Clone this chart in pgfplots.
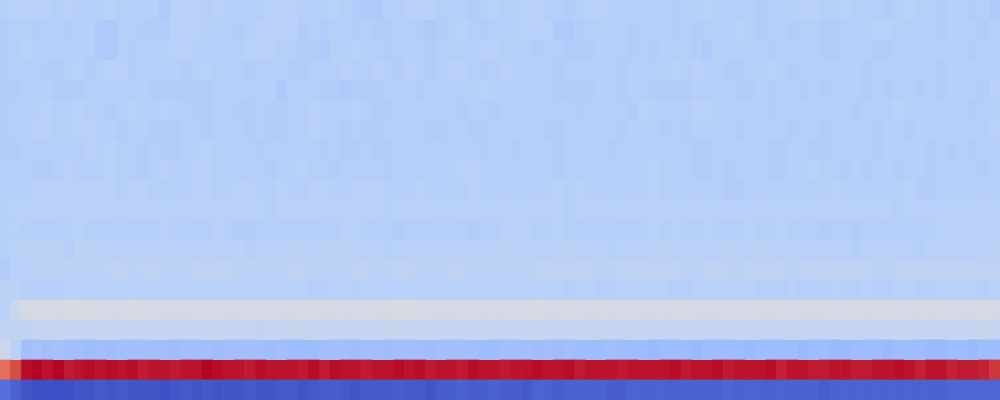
\documentclass[border=0pt]{standalone}
\usepackage{pgfplots}
\pgfplotsset{compat=1.18}
\begin{document}
\begin{tikzpicture}
\begin{axis}[
  scale only axis, width=25cm, height=10cm,
  hide axis, enlargelimits=false,
  xmin=-0.5, xmax=93.5, ymin=-0.5, ymax=19.5,
  y dir=reverse,
  colormap={coolwarm}{rgb255=(59,76,192) rgb255=(98,130,234) rgb255=(141,176,254) rgb255=(184,208,249) rgb255=(221,220,220) rgb255=(245,196,173) rgb255=(244,154,123) rgb255=(222,96,77) rgb255=(180,4,38)},
  point meta min=0, point meta max=1,
]
\addplot[matrix plot*, mesh/cols=94, point meta=explicit]
 table[header=false, row sep=\\,
   x expr={\coordindex-94*floor((\coordindex+0.5)/94)},
   y expr={floor((\coordindex+0.5)/94)},
   meta index=0] {
0.37\\ 0.38\\ 0.38\\ 0.38\\ 0.38\\ 0.37\\ 0.38\\ 0.37\\ 0.37\\ 0.37\\
0.38\\ 0.37\\ 0.37\\ 0.37\\ 0.37\\ 0.35\\ 0.38\\ 0.38\\ 0.38\\ 0.37\\
0.38\\ 0.37\\ 0.37\\ 0.37\\ 0.37\\ 0.38\\ 0.38\\ 0.38\\ 0.37\\ 0.37\\
0.37\\ 0.38\\ 0.37\\ 0.36\\ 0.35\\ 0.35\\ 0.37\\ 0.37\\ 0.38\\ 0.38\\
0.38\\ 0.37\\ 0.37\\ 0.37\\ 0.36\\ 0.37\\ 0.38\\ 0.37\\ 0.37\\ 0.38\\
0.38\\ 0.37\\ 0.37\\ 0.36\\ 0.37\\ 0.38\\ 0.38\\ 0.37\\ 0.37\\ 0.37\\
0.37\\ 0.37\\ 0.37\\ 0.36\\ 0.37\\ 0.37\\ 0.38\\ 0.37\\ 0.37\\ 0.37\\
0.37\\ 0.36\\ 0.37\\ 0.37\\ 0.37\\ 0.38\\ 0.38\\ 0.37\\ 0.37\\ 0.38\\
0.37\\ 0.37\\ 0.37\\ 0.36\\ 0.37\\ 0.38\\ 0.37\\ 0.37\\ 0.36\\ 0.37\\
0.37\\ 0.36\\ 0.37\\ 0.35\\
0.36\\ 0.37\\ 0.37\\ 0.36\\ 0.37\\ 0.37\\ 0.36\\ 0.37\\ 0.37\\ 0.35\\
0.35\\ 0.37\\ 0.37\\ 0.36\\ 0.36\\ 0.36\\ 0.38\\ 0.38\\ 0.38\\ 0.37\\
0.37\\ 0.37\\ 0.36\\ 0.37\\ 0.38\\ 0.38\\ 0.38\\ 0.38\\ 0.36\\ 0.37\\
0.36\\ 0.37\\ 0.37\\ 0.36\\ 0.37\\ 0.36\\ 0.36\\ 0.37\\ 0.37\\ 0.36\\
0.35\\ 0.36\\ 0.37\\ 0.38\\ 0.37\\ 0.36\\ 0.37\\ 0.37\\ 0.37\\ 0.38\\
0.38\\ 0.38\\ 0.35\\ 0.35\\ 0.36\\ 0.37\\ 0.37\\ 0.37\\ 0.37\\ 0.36\\
0.37\\ 0.37\\ 0.37\\ 0.36\\ 0.37\\ 0.36\\ 0.37\\ 0.37\\ 0.37\\ 0.38\\
0.37\\ 0.36\\ 0.37\\ 0.37\\ 0.36\\ 0.37\\ 0.37\\ 0.36\\ 0.36\\ 0.37\\
0.37\\ 0.37\\ 0.38\\ 0.38\\ 0.37\\ 0.37\\ 0.37\\ 0.37\\ 0.36\\ 0.37\\
0.37\\ 0.37\\ 0.36\\ 0.37\\
0.36\\ 0.37\\ 0.38\\ 0.37\\ 0.37\\ 0.37\\ 0.37\\ 0.37\\ 0.37\\ 0.35\\
0.35\\ 0.37\\ 0.36\\ 0.37\\ 0.37\\ 0.37\\ 0.38\\ 0.38\\ 0.37\\ 0.37\\
0.37\\ 0.37\\ 0.37\\ 0.38\\ 0.38\\ 0.38\\ 0.37\\ 0.37\\ 0.36\\ 0.36\\
0.35\\ 0.37\\ 0.37\\ 0.38\\ 0.37\\ 0.37\\ 0.36\\ 0.37\\ 0.37\\ 0.37\\
0.36\\ 0.37\\ 0.37\\ 0.37\\ 0.37\\ 0.38\\ 0.38\\ 0.37\\ 0.37\\ 0.37\\
0.36\\ 0.37\\ 0.37\\ 0.36\\ 0.36\\ 0.36\\ 0.37\\ 0.37\\ 0.37\\ 0.36\\
0.37\\ 0.36\\ 0.37\\ 0.37\\ 0.37\\ 0.36\\ 0.35\\ 0.37\\ 0.37\\ 0.37\\
0.37\\ 0.37\\ 0.36\\ 0.37\\ 0.37\\ 0.37\\ 0.37\\ 0.36\\ 0.36\\ 0.37\\
0.37\\ 0.37\\ 0.36\\ 0.36\\ 0.37\\ 0.37\\ 0.37\\ 0.37\\ 0.37\\ 0.37\\
0.37\\ 0.36\\ 0.37\\ 0.37\\
0.36\\ 0.37\\ 0.37\\ 0.37\\ 0.36\\ 0.36\\ 0.37\\ 0.38\\ 0.36\\ 0.37\\
0.38\\ 0.38\\ 0.36\\ 0.37\\ 0.37\\ 0.37\\ 0.37\\ 0.36\\ 0.37\\ 0.38\\
0.37\\ 0.37\\ 0.37\\ 0.36\\ 0.37\\ 0.37\\ 0.37\\ 0.36\\ 0.36\\ 0.37\\
0.37\\ 0.37\\ 0.38\\ 0.37\\ 0.37\\ 0.38\\ 0.37\\ 0.36\\ 0.38\\ 0.37\\
0.36\\ 0.37\\ 0.38\\ 0.38\\ 0.37\\ 0.36\\ 0.37\\ 0.38\\ 0.37\\ 0.37\\
0.37\\ 0.37\\ 0.36\\ 0.37\\ 0.37\\ 0.37\\ 0.37\\ 0.37\\ 0.36\\ 0.37\\
0.37\\ 0.37\\ 0.37\\ 0.38\\ 0.37\\ 0.38\\ 0.37\\ 0.37\\ 0.36\\ 0.36\\
0.37\\ 0.37\\ 0.38\\ 0.37\\ 0.36\\ 0.37\\ 0.37\\ 0.37\\ 0.37\\ 0.37\\
0.37\\ 0.36\\ 0.37\\ 0.37\\ 0.37\\ 0.37\\ 0.37\\ 0.37\\ 0.36\\ 0.37\\
0.37\\ 0.37\\ 0.37\\ 0.37\\
0.36\\ 0.36\\ 0.37\\ 0.37\\ 0.37\\ 0.36\\ 0.36\\ 0.36\\ 0.37\\ 0.37\\
0.37\\ 0.37\\ 0.37\\ 0.37\\ 0.36\\ 0.36\\ 0.36\\ 0.36\\ 0.36\\ 0.36\\
0.37\\ 0.37\\ 0.37\\ 0.37\\ 0.37\\ 0.37\\ 0.35\\ 0.37\\ 0.37\\ 0.37\\
0.36\\ 0.36\\ 0.35\\ 0.36\\ 0.36\\ 0.36\\ 0.37\\ 0.37\\ 0.37\\ 0.36\\
0.37\\ 0.37\\ 0.37\\ 0.37\\ 0.37\\ 0.38\\ 0.37\\ 0.37\\ 0.37\\ 0.37\\
0.37\\ 0.37\\ 0.36\\ 0.36\\ 0.36\\ 0.36\\ 0.37\\ 0.37\\ 0.36\\ 0.37\\
0.37\\ 0.36\\ 0.36\\ 0.36\\ 0.36\\ 0.37\\ 0.37\\ 0.37\\ 0.37\\ 0.36\\
0.36\\ 0.37\\ 0.36\\ 0.37\\ 0.37\\ 0.36\\ 0.37\\ 0.36\\ 0.37\\ 0.37\\
0.37\\ 0.36\\ 0.37\\ 0.36\\ 0.37\\ 0.37\\ 0.36\\ 0.37\\ 0.36\\ 0.37\\
0.37\\ 0.37\\ 0.36\\ 0.38\\
0.36\\ 0.37\\ 0.37\\ 0.37\\ 0.38\\ 0.37\\ 0.37\\ 0.38\\ 0.37\\ 0.37\\
0.36\\ 0.37\\ 0.38\\ 0.37\\ 0.37\\ 0.38\\ 0.37\\ 0.37\\ 0.36\\ 0.36\\
0.37\\ 0.37\\ 0.36\\ 0.36\\ 0.37\\ 0.36\\ 0.36\\ 0.37\\ 0.37\\ 0.38\\
0.37\\ 0.37\\ 0.37\\ 0.38\\ 0.37\\ 0.36\\ 0.36\\ 0.37\\ 0.37\\ 0.37\\
0.37\\ 0.37\\ 0.37\\ 0.36\\ 0.37\\ 0.37\\ 0.36\\ 0.37\\ 0.37\\ 0.37\\
0.37\\ 0.37\\ 0.37\\ 0.37\\ 0.36\\ 0.37\\ 0.37\\ 0.37\\ 0.37\\ 0.36\\
0.38\\ 0.37\\ 0.37\\ 0.37\\ 0.37\\ 0.38\\ 0.38\\ 0.37\\ 0.37\\ 0.37\\
0.37\\ 0.37\\ 0.36\\ 0.37\\ 0.37\\ 0.37\\ 0.37\\ 0.37\\ 0.37\\ 0.37\\
0.36\\ 0.37\\ 0.37\\ 0.37\\ 0.38\\ 0.37\\ 0.37\\ 0.37\\ 0.37\\ 0.37\\
0.37\\ 0.36\\ 0.37\\ 0.37\\
0.36\\ 0.37\\ 0.37\\ 0.38\\ 0.38\\ 0.37\\ 0.37\\ 0.38\\ 0.38\\ 0.37\\
0.37\\ 0.36\\ 0.37\\ 0.37\\ 0.36\\ 0.36\\ 0.36\\ 0.37\\ 0.37\\ 0.36\\
0.37\\ 0.37\\ 0.37\\ 0.36\\ 0.37\\ 0.36\\ 0.36\\ 0.37\\ 0.37\\ 0.38\\
0.37\\ 0.37\\ 0.36\\ 0.37\\ 0.36\\ 0.36\\ 0.37\\ 0.37\\ 0.37\\ 0.37\\
0.36\\ 0.36\\ 0.37\\ 0.37\\ 0.36\\ 0.36\\ 0.37\\ 0.37\\ 0.37\\ 0.37\\
0.37\\ 0.36\\ 0.36\\ 0.37\\ 0.37\\ 0.37\\ 0.37\\ 0.37\\ 0.36\\ 0.37\\
0.37\\ 0.37\\ 0.36\\ 0.37\\ 0.36\\ 0.37\\ 0.37\\ 0.37\\ 0.37\\ 0.36\\
0.37\\ 0.37\\ 0.37\\ 0.37\\ 0.36\\ 0.37\\ 0.37\\ 0.36\\ 0.37\\ 0.37\\
0.37\\ 0.37\\ 0.36\\ 0.37\\ 0.37\\ 0.36\\ 0.37\\ 0.37\\ 0.37\\ 0.37\\
0.37\\ 0.37\\ 0.37\\ 0.38\\
0.36\\ 0.36\\ 0.37\\ 0.37\\ 0.37\\ 0.37\\ 0.37\\ 0.37\\ 0.38\\ 0.37\\
0.38\\ 0.37\\ 0.37\\ 0.36\\ 0.37\\ 0.36\\ 0.36\\ 0.37\\ 0.37\\ 0.38\\
0.37\\ 0.37\\ 0.37\\ 0.37\\ 0.36\\ 0.37\\ 0.37\\ 0.37\\ 0.37\\ 0.37\\
0.36\\ 0.37\\ 0.36\\ 0.36\\ 0.37\\ 0.36\\ 0.36\\ 0.37\\ 0.37\\ 0.37\\
0.37\\ 0.37\\ 0.37\\ 0.37\\ 0.37\\ 0.36\\ 0.37\\ 0.37\\ 0.36\\ 0.37\\
0.37\\ 0.37\\ 0.36\\ 0.37\\ 0.37\\ 0.37\\ 0.37\\ 0.36\\ 0.37\\ 0.37\\
0.37\\ 0.37\\ 0.37\\ 0.37\\ 0.37\\ 0.36\\ 0.36\\ 0.37\\ 0.37\\ 0.37\\
0.37\\ 0.37\\ 0.36\\ 0.36\\ 0.37\\ 0.37\\ 0.36\\ 0.36\\ 0.37\\ 0.37\\
0.37\\ 0.37\\ 0.36\\ 0.37\\ 0.37\\ 0.37\\ 0.37\\ 0.36\\ 0.37\\ 0.36\\
0.37\\ 0.36\\ 0.37\\ 0.37\\
0.37\\ 0.37\\ 0.37\\ 0.36\\ 0.36\\ 0.37\\ 0.38\\ 0.37\\ 0.37\\ 0.37\\
0.38\\ 0.37\\ 0.37\\ 0.36\\ 0.37\\ 0.38\\ 0.37\\ 0.37\\ 0.38\\ 0.38\\
0.37\\ 0.37\\ 0.37\\ 0.37\\ 0.37\\ 0.36\\ 0.37\\ 0.37\\ 0.38\\ 0.37\\
0.37\\ 0.36\\ 0.37\\ 0.37\\ 0.37\\ 0.37\\ 0.36\\ 0.37\\ 0.37\\ 0.37\\
0.37\\ 0.37\\ 0.37\\ 0.38\\ 0.38\\ 0.37\\ 0.37\\ 0.37\\ 0.37\\ 0.37\\
0.37\\ 0.37\\ 0.36\\ 0.37\\ 0.37\\ 0.37\\ 0.37\\ 0.37\\ 0.37\\ 0.37\\
0.37\\ 0.38\\ 0.37\\ 0.37\\ 0.37\\ 0.36\\ 0.36\\ 0.37\\ 0.36\\ 0.37\\
0.37\\ 0.37\\ 0.36\\ 0.36\\ 0.37\\ 0.37\\ 0.38\\ 0.37\\ 0.37\\ 0.36\\
0.37\\ 0.36\\ 0.37\\ 0.37\\ 0.36\\ 0.37\\ 0.37\\ 0.36\\ 0.37\\ 0.37\\
0.37\\ 0.37\\ 0.36\\ 0.37\\
0.37\\ 0.37\\ 0.37\\ 0.38\\ 0.38\\ 0.38\\ 0.38\\ 0.38\\ 0.38\\ 0.38\\
0.38\\ 0.37\\ 0.38\\ 0.38\\ 0.37\\ 0.37\\ 0.37\\ 0.37\\ 0.38\\ 0.38\\
0.37\\ 0.37\\ 0.38\\ 0.38\\ 0.37\\ 0.37\\ 0.38\\ 0.37\\ 0.37\\ 0.38\\
0.38\\ 0.37\\ 0.37\\ 0.38\\ 0.38\\ 0.38\\ 0.37\\ 0.37\\ 0.37\\ 0.38\\
0.37\\ 0.37\\ 0.37\\ 0.37\\ 0.38\\ 0.37\\ 0.37\\ 0.37\\ 0.37\\ 0.37\\
0.37\\ 0.37\\ 0.38\\ 0.37\\ 0.38\\ 0.37\\ 0.37\\ 0.37\\ 0.37\\ 0.37\\
0.37\\ 0.38\\ 0.37\\ 0.37\\ 0.37\\ 0.37\\ 0.37\\ 0.37\\ 0.36\\ 0.36\\
0.37\\ 0.37\\ 0.37\\ 0.37\\ 0.37\\ 0.37\\ 0.37\\ 0.37\\ 0.38\\ 0.37\\
0.37\\ 0.37\\ 0.37\\ 0.37\\ 0.37\\ 0.38\\ 0.36\\ 0.36\\ 0.37\\ 0.37\\
0.37\\ 0.37\\ 0.37\\ 0.37\\
0.37\\ 0.38\\ 0.38\\ 0.38\\ 0.38\\ 0.38\\ 0.38\\ 0.38\\ 0.38\\ 0.38\\
0.38\\ 0.38\\ 0.39\\ 0.38\\ 0.38\\ 0.38\\ 0.38\\ 0.38\\ 0.38\\ 0.38\\
0.38\\ 0.38\\ 0.38\\ 0.38\\ 0.38\\ 0.37\\ 0.38\\ 0.39\\ 0.38\\ 0.38\\
0.38\\ 0.38\\ 0.38\\ 0.38\\ 0.38\\ 0.38\\ 0.37\\ 0.38\\ 0.38\\ 0.38\\
0.38\\ 0.38\\ 0.38\\ 0.38\\ 0.38\\ 0.38\\ 0.38\\ 0.38\\ 0.38\\ 0.38\\
0.38\\ 0.38\\ 0.38\\ 0.37\\ 0.38\\ 0.38\\ 0.38\\ 0.38\\ 0.38\\ 0.38\\
0.38\\ 0.38\\ 0.39\\ 0.38\\ 0.38\\ 0.39\\ 0.38\\ 0.38\\ 0.38\\ 0.38\\
0.38\\ 0.38\\ 0.38\\ 0.38\\ 0.38\\ 0.38\\ 0.38\\ 0.38\\ 0.38\\ 0.38\\
0.38\\ 0.38\\ 0.38\\ 0.38\\ 0.37\\ 0.38\\ 0.38\\ 0.38\\ 0.38\\ 0.38\\
0.38\\ 0.38\\ 0.38\\ 0.38\\
0.37\\ 0.38\\ 0.37\\ 0.37\\ 0.37\\ 0.37\\ 0.37\\ 0.38\\ 0.37\\ 0.37\\
0.37\\ 0.37\\ 0.37\\ 0.37\\ 0.37\\ 0.38\\ 0.37\\ 0.37\\ 0.37\\ 0.37\\
0.38\\ 0.37\\ 0.36\\ 0.36\\ 0.37\\ 0.37\\ 0.37\\ 0.37\\ 0.37\\ 0.37\\
0.37\\ 0.37\\ 0.38\\ 0.38\\ 0.37\\ 0.37\\ 0.37\\ 0.36\\ 0.37\\ 0.37\\
0.37\\ 0.37\\ 0.37\\ 0.37\\ 0.36\\ 0.37\\ 0.37\\ 0.38\\ 0.38\\ 0.38\\
0.37\\ 0.37\\ 0.38\\ 0.37\\ 0.37\\ 0.37\\ 0.37\\ 0.37\\ 0.37\\ 0.37\\
0.37\\ 0.38\\ 0.37\\ 0.38\\ 0.37\\ 0.37\\ 0.38\\ 0.37\\ 0.37\\ 0.37\\
0.38\\ 0.37\\ 0.37\\ 0.38\\ 0.37\\ 0.37\\ 0.37\\ 0.36\\ 0.37\\ 0.37\\
0.36\\ 0.37\\ 0.37\\ 0.37\\ 0.37\\ 0.37\\ 0.37\\ 0.37\\ 0.38\\ 0.38\\
0.38\\ 0.38\\ 0.38\\ 0.38\\
0.37\\ 0.38\\ 0.39\\ 0.39\\ 0.39\\ 0.39\\ 0.37\\ 0.39\\ 0.39\\ 0.39\\
0.38\\ 0.38\\ 0.38\\ 0.38\\ 0.39\\ 0.38\\ 0.38\\ 0.38\\ 0.38\\ 0.39\\
0.38\\ 0.38\\ 0.39\\ 0.37\\ 0.38\\ 0.38\\ 0.38\\ 0.39\\ 0.39\\ 0.38\\
0.39\\ 0.39\\ 0.39\\ 0.39\\ 0.38\\ 0.38\\ 0.37\\ 0.38\\ 0.38\\ 0.38\\
0.38\\ 0.38\\ 0.39\\ 0.38\\ 0.38\\ 0.38\\ 0.39\\ 0.39\\ 0.38\\ 0.38\\
0.38\\ 0.38\\ 0.39\\ 0.39\\ 0.38\\ 0.38\\ 0.38\\ 0.37\\ 0.38\\ 0.38\\
0.38\\ 0.39\\ 0.39\\ 0.38\\ 0.39\\ 0.38\\ 0.38\\ 0.38\\ 0.39\\ 0.39\\
0.38\\ 0.39\\ 0.39\\ 0.38\\ 0.38\\ 0.38\\ 0.38\\ 0.38\\ 0.38\\ 0.38\\
0.37\\ 0.38\\ 0.38\\ 0.38\\ 0.38\\ 0.38\\ 0.37\\ 0.38\\ 0.38\\ 0.38\\
0.38\\ 0.38\\ 0.38\\ 0.39\\
0.36\\ 0.38\\ 0.39\\ 0.39\\ 0.39\\ 0.39\\ 0.39\\ 0.39\\ 0.39\\ 0.39\\
0.40\\ 0.40\\ 0.39\\ 0.40\\ 0.40\\ 0.39\\ 0.39\\ 0.39\\ 0.40\\ 0.40\\
0.40\\ 0.40\\ 0.39\\ 0.39\\ 0.39\\ 0.39\\ 0.39\\ 0.40\\ 0.40\\ 0.39\\
0.39\\ 0.39\\ 0.39\\ 0.40\\ 0.40\\ 0.39\\ 0.39\\ 0.40\\ 0.40\\ 0.39\\
0.39\\ 0.39\\ 0.40\\ 0.40\\ 0.39\\ 0.39\\ 0.39\\ 0.39\\ 0.39\\ 0.39\\
0.40\\ 0.40\\ 0.40\\ 0.40\\ 0.40\\ 0.40\\ 0.39\\ 0.39\\ 0.40\\ 0.40\\
0.40\\ 0.40\\ 0.40\\ 0.40\\ 0.39\\ 0.39\\ 0.40\\ 0.40\\ 0.40\\ 0.39\\
0.40\\ 0.40\\ 0.40\\ 0.40\\ 0.39\\ 0.40\\ 0.40\\ 0.40\\ 0.40\\ 0.40\\
0.40\\ 0.40\\ 0.39\\ 0.39\\ 0.40\\ 0.40\\ 0.40\\ 0.40\\ 0.40\\ 0.40\\
0.40\\ 0.40\\ 0.40\\ 0.40\\
0.39\\ 0.39\\ 0.37\\ 0.37\\ 0.37\\ 0.37\\ 0.38\\ 0.38\\ 0.38\\ 0.38\\
0.38\\ 0.38\\ 0.38\\ 0.38\\ 0.38\\ 0.38\\ 0.38\\ 0.38\\ 0.38\\ 0.38\\
0.38\\ 0.38\\ 0.38\\ 0.38\\ 0.38\\ 0.38\\ 0.38\\ 0.38\\ 0.38\\ 0.37\\
0.37\\ 0.38\\ 0.38\\ 0.37\\ 0.38\\ 0.38\\ 0.38\\ 0.38\\ 0.38\\ 0.38\\
0.38\\ 0.38\\ 0.38\\ 0.38\\ 0.38\\ 0.38\\ 0.38\\ 0.38\\ 0.38\\ 0.38\\
0.38\\ 0.38\\ 0.38\\ 0.37\\ 0.38\\ 0.38\\ 0.37\\ 0.37\\ 0.38\\ 0.38\\
0.38\\ 0.38\\ 0.38\\ 0.37\\ 0.37\\ 0.38\\ 0.38\\ 0.38\\ 0.38\\ 0.38\\
0.38\\ 0.37\\ 0.37\\ 0.37\\ 0.38\\ 0.37\\ 0.37\\ 0.37\\ 0.38\\ 0.37\\
0.37\\ 0.38\\ 0.37\\ 0.37\\ 0.38\\ 0.38\\ 0.37\\ 0.37\\ 0.38\\ 0.38\\
0.38\\ 0.38\\ 0.37\\ 0.38\\
0.39\\ 0.44\\ 0.47\\ 0.47\\ 0.47\\ 0.47\\ 0.48\\ 0.48\\ 0.47\\ 0.47\\
0.47\\ 0.47\\ 0.48\\ 0.47\\ 0.47\\ 0.47\\ 0.47\\ 0.47\\ 0.47\\ 0.47\\
0.47\\ 0.47\\ 0.47\\ 0.47\\ 0.47\\ 0.47\\ 0.47\\ 0.47\\ 0.47\\ 0.47\\
0.47\\ 0.47\\ 0.47\\ 0.47\\ 0.47\\ 0.47\\ 0.47\\ 0.48\\ 0.48\\ 0.47\\
0.47\\ 0.47\\ 0.47\\ 0.47\\ 0.47\\ 0.47\\ 0.47\\ 0.47\\ 0.47\\ 0.47\\
0.48\\ 0.47\\ 0.47\\ 0.47\\ 0.47\\ 0.47\\ 0.47\\ 0.47\\ 0.47\\ 0.47\\
0.47\\ 0.47\\ 0.47\\ 0.47\\ 0.47\\ 0.47\\ 0.47\\ 0.47\\ 0.47\\ 0.47\\
0.47\\ 0.47\\ 0.47\\ 0.47\\ 0.47\\ 0.47\\ 0.47\\ 0.47\\ 0.47\\ 0.47\\
0.47\\ 0.47\\ 0.47\\ 0.47\\ 0.47\\ 0.47\\ 0.47\\ 0.47\\ 0.47\\ 0.47\\
0.47\\ 0.47\\ 0.47\\ 0.47\\
0.40\\ 0.41\\ 0.41\\ 0.42\\ 0.42\\ 0.42\\ 0.42\\ 0.42\\ 0.42\\ 0.42\\
0.42\\ 0.42\\ 0.42\\ 0.42\\ 0.42\\ 0.42\\ 0.42\\ 0.42\\ 0.42\\ 0.42\\
0.42\\ 0.42\\ 0.42\\ 0.42\\ 0.41\\ 0.42\\ 0.42\\ 0.42\\ 0.43\\ 0.42\\
0.42\\ 0.42\\ 0.42\\ 0.42\\ 0.42\\ 0.42\\ 0.42\\ 0.43\\ 0.42\\ 0.42\\
0.42\\ 0.42\\ 0.42\\ 0.42\\ 0.42\\ 0.42\\ 0.42\\ 0.42\\ 0.42\\ 0.42\\
0.42\\ 0.42\\ 0.42\\ 0.42\\ 0.42\\ 0.42\\ 0.42\\ 0.42\\ 0.42\\ 0.42\\
0.42\\ 0.42\\ 0.42\\ 0.42\\ 0.42\\ 0.42\\ 0.42\\ 0.42\\ 0.42\\ 0.42\\
0.42\\ 0.42\\ 0.42\\ 0.42\\ 0.42\\ 0.42\\ 0.42\\ 0.42\\ 0.42\\ 0.42\\
0.42\\ 0.42\\ 0.42\\ 0.42\\ 0.42\\ 0.42\\ 0.42\\ 0.42\\ 0.42\\ 0.42\\
0.42\\ 0.42\\ 0.43\\ 0.42\\
0.44\\ 0.38\\ 0.31\\ 0.32\\ 0.31\\ 0.32\\ 0.31\\ 0.31\\ 0.30\\ 0.31\\
0.30\\ 0.31\\ 0.31\\ 0.31\\ 0.31\\ 0.31\\ 0.30\\ 0.31\\ 0.31\\ 0.31\\
0.30\\ 0.31\\ 0.31\\ 0.31\\ 0.31\\ 0.30\\ 0.31\\ 0.30\\ 0.30\\ 0.30\\
0.31\\ 0.31\\ 0.31\\ 0.30\\ 0.31\\ 0.31\\ 0.30\\ 0.31\\ 0.31\\ 0.31\\
0.30\\ 0.31\\ 0.31\\ 0.31\\ 0.31\\ 0.30\\ 0.30\\ 0.31\\ 0.31\\ 0.31\\
0.30\\ 0.31\\ 0.30\\ 0.31\\ 0.30\\ 0.30\\ 0.30\\ 0.31\\ 0.30\\ 0.30\\
0.30\\ 0.29\\ 0.30\\ 0.30\\ 0.30\\ 0.29\\ 0.30\\ 0.30\\ 0.30\\ 0.30\\
0.29\\ 0.30\\ 0.30\\ 0.30\\ 0.30\\ 0.29\\ 0.30\\ 0.30\\ 0.29\\ 0.29\\
0.30\\ 0.30\\ 0.30\\ 0.29\\ 0.30\\ 0.30\\ 0.30\\ 0.29\\ 0.29\\ 0.30\\
0.30\\ 0.29\\ 0.30\\ 0.30\\
0.84\\ 0.90\\ 0.99\\ 1.00\\ 0.98\\ 1.00\\ 0.97\\ 0.98\\ 0.99\\ 0.98\\
0.99\\ 0.98\\ 0.99\\ 0.97\\ 0.98\\ 0.98\\ 0.97\\ 0.98\\ 0.98\\ 1.00\\
0.99\\ 0.98\\ 0.98\\ 0.97\\ 0.99\\ 0.98\\ 0.98\\ 0.98\\ 0.97\\ 0.99\\
0.97\\ 0.99\\ 0.98\\ 0.98\\ 0.97\\ 0.98\\ 0.98\\ 0.99\\ 0.98\\ 0.99\\
0.97\\ 0.98\\ 0.98\\ 0.97\\ 0.99\\ 0.98\\ 0.98\\ 0.97\\ 0.98\\ 0.98\\
0.99\\ 0.98\\ 0.98\\ 0.99\\ 0.97\\ 0.98\\ 0.98\\ 0.98\\ 0.97\\ 0.98\\
0.98\\ 0.98\\ 0.98\\ 0.99\\ 0.97\\ 0.98\\ 0.98\\ 0.99\\ 0.97\\ 0.98\\
0.98\\ 0.98\\ 0.99\\ 0.96\\ 0.98\\ 0.98\\ 0.97\\ 0.97\\ 0.98\\ 0.98\\
0.97\\ 0.97\\ 0.98\\ 0.98\\ 0.99\\ 0.98\\ 0.96\\ 0.98\\ 0.98\\ 0.96\\
0.97\\ 0.97\\ 0.96\\ 0.93\\
0.08\\ 0.05\\ 0.02\\ 0.01\\ 0.01\\ 0.01\\ 0.01\\ 0.02\\ 0.02\\ 0.03\\
0.02\\ 0.03\\ 0.02\\ 0.02\\ 0.02\\ 0.01\\ 0.02\\ 0.03\\ 0.02\\ 0.03\\
0.02\\ 0.02\\ 0.02\\ 0.03\\ 0.02\\ 0.02\\ 0.03\\ 0.03\\ 0.02\\ 0.03\\
0.04\\ 0.04\\ 0.03\\ 0.02\\ 0.03\\ 0.03\\ 0.03\\ 0.04\\ 0.03\\ 0.03\\
0.02\\ 0.04\\ 0.04\\ 0.05\\ 0.04\\ 0.04\\ 0.05\\ 0.04\\ 0.04\\ 0.03\\
0.05\\ 0.05\\ 0.04\\ 0.05\\ 0.05\\ 0.05\\ 0.05\\ 0.04\\ 0.04\\ 0.05\\
0.05\\ 0.05\\ 0.05\\ 0.05\\ 0.05\\ 0.05\\ 0.05\\ 0.05\\ 0.06\\ 0.05\\
0.05\\ 0.05\\ 0.05\\ 0.05\\ 0.05\\ 0.05\\ 0.05\\ 0.04\\ 0.05\\ 0.05\\
0.05\\ 0.05\\ 0.05\\ 0.05\\ 0.05\\ 0.05\\ 0.05\\ 0.05\\ 0.05\\ 0.06\\
0.06\\ 0.06\\ 0.06\\ 0.06\\
};
\end{axis}
\end{tikzpicture}
\end{document}
